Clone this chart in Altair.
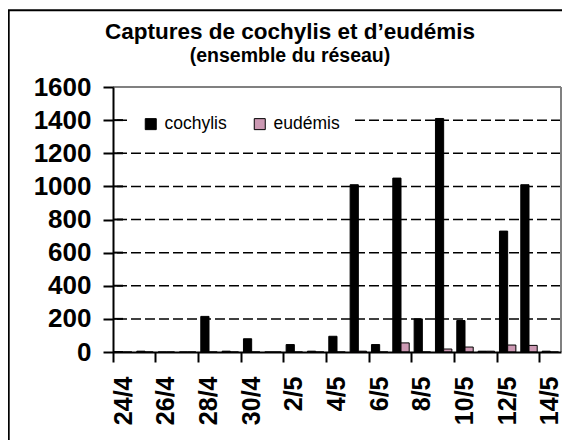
import altair as alt
import pandas as pd

# ---- data ----
dates = ["24/4", "25/4", "26/4", "27/4", "28/4", "29/4", "30/4", "1/5", "2/5", "3/5",
         "4/5", "5/5", "6/5", "7/5", "8/5", "9/5", "10/5", "11/5", "12/5", "13/5", "14/5"]
cochylis = [0, 5, 0, 0, 215, 5, 80, 0, 45, 5, 95, 1010, 45, 1050, 200, 1410, 190, 5, 730, 1010, 5]
eudemis = [0, 0, 0, 0, 0, 0, 0, 0, 0, 0, 0, 5, 0, 55, 0, 18, 30, 5, 42, 40, 0]
series_names = ["cochylis", "eudémis"]
series_colors = ["#000000", "#cc99b3"]
y_ticks = [0, 200, 400, 600, 800, 1000, 1200, 1400, 1600]
grid_values = [200, 400, 600, 800, 1000, 1200, 1400]
label_dates = dates[::2]
title_text = ["Captures de cochylis et d\u2019eudémis"]
subtitle_text = ["(ensemble du réseau)"]

W, H = 448, 265
FONT = "Liberation Sans"

rows = []
for d, c, e in zip(dates, cochylis, eudemis):
    rows.append({"date": d, "series": series_names[0], "value": c})
    rows.append({"date": d, "series": series_names[1], "value": e})
df = pd.DataFrame(rows)

y_scale = alt.Scale(domain=[0, 1600], nice=False, zero=True)
y_axis = alt.Axis(values=y_ticks, title=None, format="d", labelFontSize=26,
                  labelFontWeight="bold", labelFont=FONT, labelColor="black",
                  labelPadding=12, tickSize=10, tickWidth=2, tickColor="black",
                  domainColor="black", domainWidth=2, grid=False, zindex=1)

grid = alt.Chart(pd.DataFrame({"value": grid_values})).mark_rule(
    color="black", strokeWidth=1.5, strokeDash=[10, 4]
).encode(y=alt.Y("value:Q", scale=y_scale, axis=y_axis))

border = alt.Chart(pd.DataFrame({"value": [1600]})).mark_rule(
    color="#808080", strokeWidth=2
).encode(y=alt.Y("value:Q", scale=y_scale, axis=y_axis), x=alt.value(0), x2=alt.value(W))

border_r = alt.Chart(pd.DataFrame({"value": [1600]})).mark_rule(
    color="#808080", strokeWidth=2
).encode(y=alt.Y("value:Q", scale=y_scale, axis=y_axis), y2=alt.value(H), x=alt.value(W))

bars = alt.Chart(df).mark_bar(stroke="black", strokeWidth=1).encode(
    x=alt.X("date:N", sort=dates,
            scale=alt.Scale(domain=dates, paddingInner=0, paddingOuter=0),
            axis=alt.Axis(values=label_dates, title=None, bandPosition=0,
                          labelAngle=270, labelAlign="right",
                          labelBaseline="middle", labelFontSize=25, labelFontWeight="bold",
                          labelFont=FONT, labelColor="black", labelPadding=14,
                          labelOverlap=False, labelBound=False, labelFlush=False,
                          tickSize=10, tickWidth=2, tickColor="black",
                          domainColor="black", domainWidth=2, grid=False, zindex=1)),
    xOffset=alt.XOffset("series:N", sort=series_names,
                        scale=alt.Scale(domain=series_names, paddingInner=0, paddingOuter=0.3)),
    y=alt.Y("value:Q", scale=y_scale, axis=y_axis),
    color=alt.Color("series:N", sort=series_names,
                    scale=alt.Scale(domain=series_names, range=series_colors),
                    legend=alt.Legend(title=None, orient="none", legendX=17, legendY=16,
                                      direction="horizontal", fillColor="white", padding=12,
                                      symbolType="square", symbolSize=121,
                                      symbolStrokeColor="black", symbolStrokeWidth=1,
                                      labelFontSize=17.5, labelFont=FONT, labelColor="black",
                                      labelOffset=5, columnPadding=24)),
)

inner_ticks = alt.Chart(pd.DataFrame({"value": y_ticks[:-1]})).mark_rule(
    color="black", strokeWidth=2
).encode(y=alt.Y("value:Q", scale=y_scale, axis=y_axis), x=alt.value(0), x2=alt.value(10))

frame = alt.Chart(pd.DataFrame({"a": [0]})).mark_rect(
    filled=False, stroke="black", strokeWidth=2
).encode(x=alt.value(-104.3), x2=alt.value(470), y=alt.value(-76.7), y2=alt.value(400))

title = alt.Chart(pd.DataFrame({"t": title_text})).mark_text(
    font=FONT, fontSize=22.5, fontWeight="bold", align="center", baseline="alphabetic", color="black"
).encode(text="t:N", x=alt.value(177), y=alt.value(-48.5))

subtitle = alt.Chart(pd.DataFrame({"t": subtitle_text})).mark_text(
    font=FONT, fontSize=19.5, fontWeight="bold", align="center", baseline="alphabetic", color="black"
).encode(text="t:N", x=alt.value(177), y=alt.value(-25.5))

chart = alt.layer(grid, border, border_r, bars, inner_ticks, frame, title, subtitle).properties(
    width=W, height=H,
    autosize=alt.AutoSizeParams(type="none"),
    padding={"left": 105, "top": 79, "right": 1, "bottom": 88},
    background="white",
).configure_view(stroke=None)

chart.save("out.html", embed_options={"renderer": "svg", "actions": False})
